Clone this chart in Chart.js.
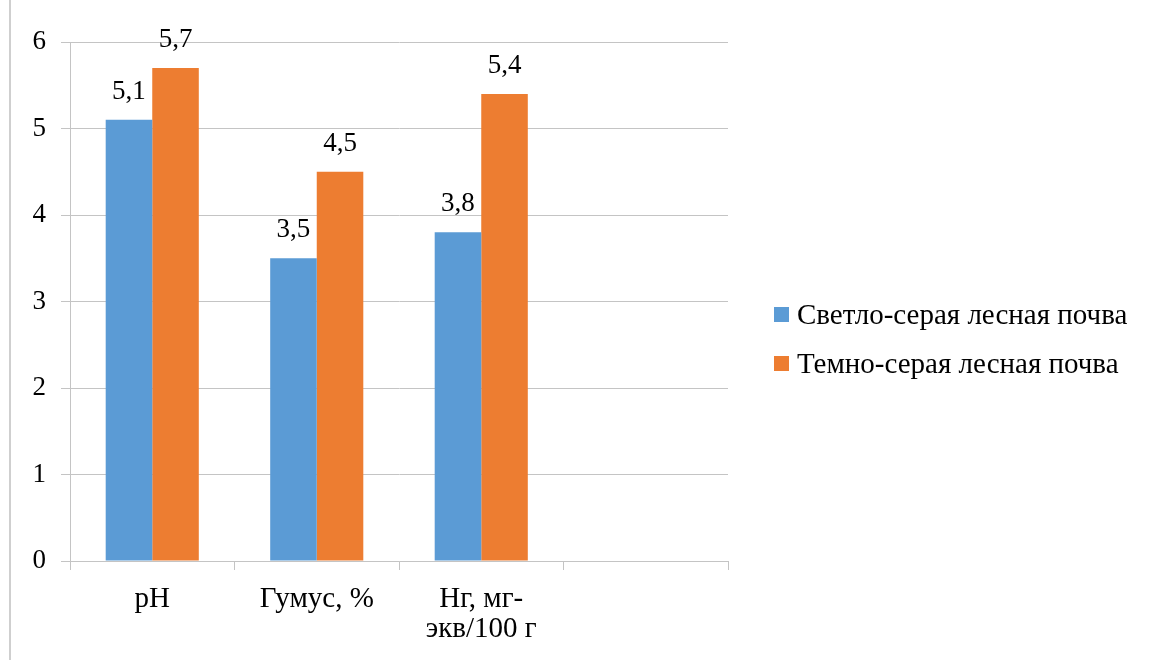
<!DOCTYPE html>
<html>
<head>
<meta charset="utf-8">
<script src="https://cdn.jsdelivr.net/npm/chart.js@4.4.1/dist/chart.umd.min.js"></script>
<style>
  html, body { margin: 0; padding: 0; background: #ffffff; }
  #wrap { position: relative; width: 1153px; height: 660px; }
  #edge { position: absolute; left: 9px; top: 0; width: 2px; height: 660px; background: #cfcfcf; }
  canvas { position: absolute; left: 0; top: 0; }
</style>
</head>
<body>
<div id="wrap">
  <div id="edge"></div>
  <canvas id="chart" width="1153" height="660"></canvas>
</div>
<script>
// Soil properties by soil type
const categories = ['pH', 'Гумус, %', ['Нг, мг-', 'экв/100 г'], ''];
const seriesNames = ['Светло-серая лесная почва', 'Темно-серая лесная почва'];
const lightGreySoil = [5.1, 3.5, 3.8, null];
const darkGreySoil = [5.7, 4.5, 5.4, null];
const yMin = 0;
const yMax = 6;
const yStep = 1;

const seriesColors = ['#5B9BD5', '#ED7D31'];
const FONT = "'Liberation Serif', 'Times New Roman', serif";
const gridColor = '#c4c4c4';

// value labels above each bar, with a decimal comma
const valueLabels = {
  id: 'valueLabels',
  afterDatasetsDraw(chart) {
    const ctx = chart.ctx;
    ctx.save();
    ctx.font = '27px ' + FONT;
    ctx.fillStyle = '#000000';
    ctx.textAlign = 'center';
    ctx.textBaseline = 'alphabetic';
    chart.data.datasets.forEach((ds, i) => {
      const meta = chart.getDatasetMeta(i);
      meta.data.forEach((bar, j) => {
        const v = ds.data[j];
        if (v === null || v === undefined) return;
        ctx.fillText(String(v).replace('.', ','), bar.x, bar.y - 21);
      });
    });
    ctx.restore();
  }
};

// legend on the right of the plot area
const sideLegend = {
  id: 'sideLegend',
  afterDraw(chart) {
    const ctx = chart.ctx;
    const area = chart.chartArea;
    const boxX = area.right + 46;
    const rowGap = 49;
    const firstY = chart.height / 2 - 15;
    ctx.save();
    ctx.font = '29px ' + FONT;
    ctx.textAlign = 'left';
    ctx.textBaseline = 'middle';
    chart.data.datasets.forEach((ds, i) => {
      const cy = firstY + i * rowGap;
      ctx.fillStyle = ds.backgroundColor;
      ctx.fillRect(boxX, cy - 8, 15, 15);
      ctx.fillStyle = '#000000';
      ctx.fillText(ds.label, boxX + 23, cy + 1);
    });
    ctx.restore();
  }
};

function draw() {
  new Chart(document.getElementById('chart'), {
    type: 'bar',
    data: {
      labels: categories,
      datasets: [
        { label: seriesNames[0], data: lightGreySoil, backgroundColor: seriesColors[0] },
        { label: seriesNames[1], data: darkGreySoil, backgroundColor: seriesColors[1] }
      ]
    },
    options: {
      responsive: false,
      animation: false,
      devicePixelRatio: 1,
      layout: { padding: { top: 42, right: 425, bottom: 0, left: 0 } },
      datasets: {
        bar: { categoryPercentage: 0.566, barPercentage: 1.0, borderWidth: 0 }
      },
      plugins: {
        legend: { display: false },
        tooltip: { enabled: false }
      },
      scales: {
        x: {
          offset: true,
          grid: {
            display: true,
            offset: true,
            drawOnChartArea: false,
            drawTicks: true,
            tickLength: 9,
            color: gridColor
          },
          border: { display: true, color: gridColor, width: 1 },
          ticks: {
            color: '#000000',
            font: { family: FONT, size: 29, lineHeight: 1.05 },
            padding: 14,
            maxRotation: 0,
            autoSkip: false
          },
          afterFit(scale) { scale.height = 99; }
        },
        y: {
          min: yMin,
          max: yMax,
          grid: {
            color: gridColor,
            tickLength: 9,
            drawTicks: true
          },
          border: { display: true, color: gridColor, width: 1 },
          ticks: {
            stepSize: yStep,
            color: '#000000',
            font: { family: FONT, size: 27 },
            padding: 15
          },
          afterFit(scale) { scale.width = 70; }
        }
      }
    },
    plugins: [valueLabels, sideLegend]
  });
}

Promise.all([
  document.fonts.load("27px 'Liberation Serif'"),
  document.fonts.load("29px 'Liberation Serif'")
]).then(draw, draw);
</script>
</body>
</html>
